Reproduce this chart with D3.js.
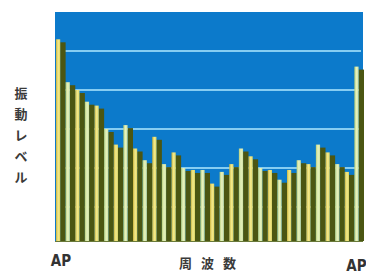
<!DOCTYPE html>
<html>
<head>
<meta charset="utf-8">
<script src="https://cdn.jsdelivr.net/npm/d3@7"></script>
<style>
  html, body { margin: 0; padding: 0; background: #fff; }
  svg { display: block; }
</style>
</head>
<body>
<svg id="chart" width="366" height="278"></svg>
<script>
// 周波数ごとの振動レベル (目盛1本 = 10)
const bandIdx = d3.range(32);
const levels = [53, 42, 40, 37, 36, 30, 26, 31, 25, 22, 28, 21, 24, 20, 19.5, 19.5,
                16, 19, 21, 25, 23, 20, 19.5, 17, 19.5, 22, 21, 26, 24, 21, 19, 46];
const gridVals = [10, 20, 30, 40, 50];
const endLabels = ["AP", "AP"];
const yTitle = ["振", "動", "レ", "ベ", "ル"];
const xTitle = "周波数";

const W = 366, H = 278;
const plot = { left: 55, right: 363, top: 12, bottom: 241 };

const svg = d3.select("#chart");
const defs = svg.append("defs");

const grads = [
  { id: "gYel", stops: ["#c9b43c", "#f2ea8e", "#e4d862"] },
  { id: "gGrn", stops: ["#b9cf78", "#e6f2c0", "#cfe2a0"] }
];
grads.forEach(gd => {
  const lg = defs.append("linearGradient").attr("id", gd.id)
      .attr("x1", 0).attr("x2", 1).attr("y1", 0).attr("y2", 0);
  gd.stops.forEach((c, i) => lg.append("stop").attr("offset", i / 2).attr("stop-color", c));
});

const x = d3.scaleBand().domain(bandIdx).range([plot.left + 1, plot.right + 1]).padding(0);
const y = d3.scaleLinear().domain([0, 60]).range([246, 12]);

// 背景
svg.append("rect")
    .attr("x", plot.left).attr("y", plot.top)
    .attr("width", plot.right - plot.left).attr("height", plot.bottom - plot.top)
    .attr("fill", "#0c7acb");

// 目盛線
svg.append("g").selectAll("line")
  .data(gridVals)
  .join("line")
    .attr("x1", plot.left + 6).attr("x2", plot.right - 2)
    .attr("y1", d => y(d)).attr("y2", d => y(d))
    .attr("stroke", "#86cdf2").attr("stroke-width", 2);

const bw = x.bandwidth();
const lightW = 4.2;

const bars = svg.append("g");
// 影
bars.selectAll("rect.sh")
  .data(levels)
  .join("rect")
    .attr("class", "sh")
    .attr("x", (d, i) => x(i) + lightW)
    .attr("y", d => y(d) + 3)
    .attr("width", bw - lightW)
    .attr("height", d => plot.bottom - y(d) - 3)
    .attr("fill", "#4b5612");
// 棒
bars.selectAll("rect.bar")
  .data(levels)
  .join("rect")
    .attr("class", "bar")
    .attr("x", (d, i) => x(i))
    .attr("y", d => y(d))
    .attr("width", lightW)
    .attr("height", d => plot.bottom - y(d))
    .attr("fill", (d, i) => i % 2 ? "url(#gGrn)" : "url(#gYel)");

// 下端
svg.append("line")
    .attr("x1", plot.left).attr("x2", plot.right)
    .attr("y1", plot.bottom + 0.5).attr("y2", plot.bottom + 0.5)
    .attr("stroke", "#6a7a3a").attr("stroke-width", 1);

// AP ラベル
svg.selectAll("text.ap")
  .data(endLabels)
  .join("text")
    .attr("class", "ap")
    .attr("x", (d, i) => i === 0 ? x(0) + 5 : x(bandIdx.length - 1) + 2)
    .attr("y", (d, i) => i === 0 ? 266 : 271)
    .attr("text-anchor", "middle")
    .attr("font-family", "'Liberation Sans Narrow', 'DejaVu Sans Condensed', sans-serif")
    .attr("font-weight", "bold")
    .attr("font-size", 15)
    .attr("fill", "#333")
    .text(d => d);

// 軸タイトル
svg.append("text")
    .attr("x", 212).attr("y", 268)
    .attr("text-anchor", "middle")
    .attr("font-family", "'Noto Sans CJK JP', sans-serif")
    .attr("font-weight", "bold")
    .attr("font-size", 13)
    .attr("letter-spacing", 9)
    .attr("fill", "#3a3a3a")
    .text(xTitle);

svg.append("g").selectAll("text")
  .data(yTitle)
  .join("text")
    .attr("x", 21)
    .attr("y", (d, i) => 98 + i * 21)
    .attr("text-anchor", "middle")
    .attr("font-family", "'Noto Sans CJK JP', sans-serif")
    .attr("font-weight", "bold")
    .attr("font-size", 13)
    .attr("fill", "#3a3a3a")
    .text(d => d);
</script>
</body>
</html>
